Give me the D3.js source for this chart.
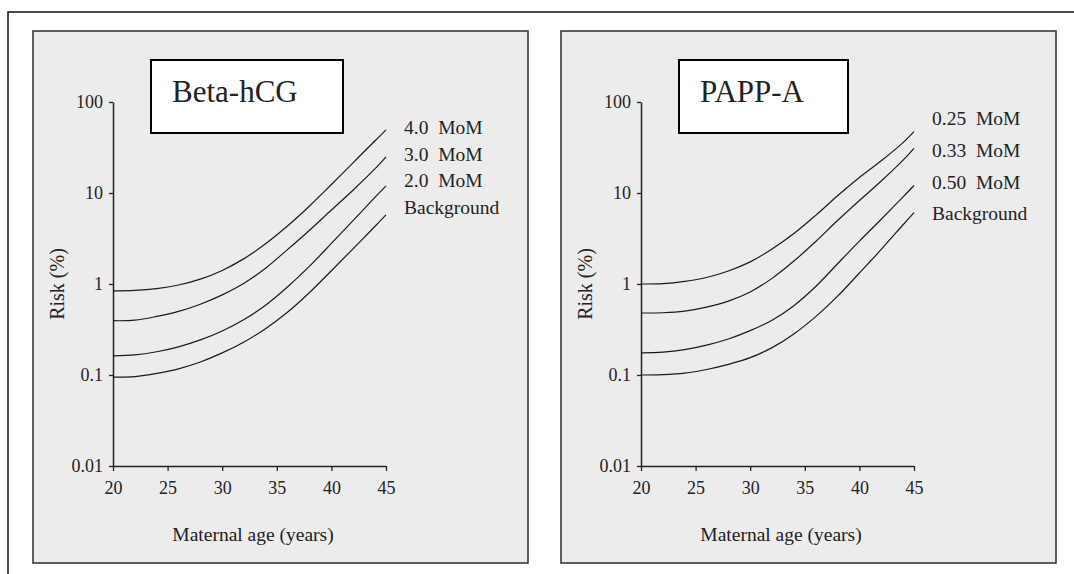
<!DOCTYPE html>
<html>
<head>
<meta charset="utf-8">
<script src="https://cdn.jsdelivr.net/npm/d3@7"></script>
<style>
  body { margin: 0; background: #fff; overflow: hidden; }
  text { font-family: "Liberation Serif", "Times New Roman", serif; fill: #222; }
</style>
</head>
<body>
<svg width="1074" height="574"></svg>
<script>
// maternal age (years)
const ages = [20, 22, 24, 26, 28, 30, 32, 34, 36, 38, 40, 42, 44, 45];

// Beta-hCG panel, risk (%)
const hcgBackground = [0.095, 0.096, 0.104, 0.117, 0.139, 0.175, 0.231, 0.325, 0.492, 0.807, 1.40, 2.45, 4.31, 5.74];
const hcg20 = [0.162, 0.166, 0.18, 0.204, 0.243, 0.305, 0.407, 0.589, 0.933, 1.57, 2.79, 5.0, 9.0, 12.0];
const hcg30 = [0.395, 0.4, 0.44, 0.5, 0.6, 0.76, 1.02, 1.5, 2.4, 3.9, 6.5, 10.8, 18.5, 25];
const hcg40 = [0.84, 0.85, 0.89, 0.975, 1.13, 1.41, 1.9, 2.78, 4.36, 7.2, 12.4, 21.6, 37.5, 49.4];

// PAPP-A panel, risk (%)
const pappBackground = [0.1, 0.101, 0.105, 0.115, 0.131, 0.155, 0.2, 0.283, 0.438, 0.735, 1.32, 2.4, 4.48, 6.1];
const papp050 = [0.175, 0.178, 0.19, 0.213, 0.249, 0.307, 0.4, 0.578, 0.938, 1.67, 2.96, 5.15, 9.06, 12.1];
const papp033 = [0.48, 0.483, 0.504, 0.558, 0.649, 0.817, 1.153, 1.786, 2.93, 4.98, 8.26, 13.55, 23.0, 31.0];
const papp025 = [1.0, 1.01, 1.07, 1.18, 1.39, 1.75, 2.42, 3.58, 5.68, 9.31, 14.8, 22.6, 35.8, 47.2];

const hcgLabels = ["4.0\u00a0\u00a0MoM", "3.0\u00a0\u00a0MoM", "2.0\u00a0\u00a0MoM", "Background"];
const pappLabels = ["0.25\u00a0\u00a0MoM", "0.33\u00a0\u00a0MoM", "0.50\u00a0\u00a0MoM", "Background"];

const xTicks = [20, 25, 30, 35, 40, 45];
const yTicks = [0.01, 0.1, 1, 10, 100];
const yTickLabels = ["0.01", "0.1", "1", "10", "100"];

let svg = d3.select("svg");

// outer frame: only the top and left edges fall inside the picture
svg.append("path")
  .attr("d", "M8,574V12H1074")
  .attr("fill", "none")
  .attr("stroke", "#111")
  .attr("stroke-width", 1.5);

function drawPanel(x0, title, boxWidth, series, labels, labelYs) {
  let g = svg.append("g").attr("transform", `translate(${x0},0)`);

  g.append("rect")
    .attr("x", 0).attr("y", 31)
    .attr("width", 495).attr("height", 532)
    .attr("fill", "#ececec")
    .attr("stroke", "#3a3a3a")
    .attr("stroke-width", 1.6);

  let x = d3.scaleLinear().domain([20, 45]).range([80, 353]);
  let y = d3.scaleLog().domain([0.01, 100]).range([466, 102]);

  let xAxis = g.append("g")
    .attr("transform", "translate(0,466)")
    .call(d3.axisBottom(x).tickValues(xTicks).tickSize(5).tickSizeOuter(0).tickPadding(10));

  let yAxis = g.append("g")
    .attr("transform", "translate(80,0)")
    .call(d3.axisLeft(y).tickValues(yTicks)
      .tickFormat((d, i) => yTickLabels[i])
      .tickSize(4).tickSizeOuter(0).tickPadding(6));

  [xAxis, yAxis].forEach((a) => {
    a.select(".domain").attr("stroke", "#222").attr("stroke-width", 1.5);
    a.selectAll(".tick line").attr("stroke", "#222").attr("stroke-width", 1.3);
    a.selectAll("text")
      .style("font-family", "'Liberation Serif', serif")
      .style("font-size", "18px")
      .attr("fill", "#222");
  });

  g.append("text")
    .attr("x", 220).attr("y", 541)
    .attr("text-anchor", "middle")
    .style("font-size", "19.5px")
    .text("Maternal age (years)");

  g.append("text")
    .attr("transform", "translate(31,284) rotate(-90)")
    .attr("text-anchor", "middle")
    .style("font-size", "20px")
    .text("Risk (%)");

  let line = d3.line()
    .x((d, i) => x(ages[i]))
    .y((d) => y(d))
    .curve(d3.curveCatmullRom);

  g.selectAll("path.curve")
    .data(series)
    .enter()
    .append("path")
    .attr("class", "curve")
    .attr("d", line)
    .attr("fill", "none")
    .attr("stroke", "#1a1a1a")
    .attr("stroke-width", 1.2);

  g.selectAll("text.lbl")
    .data(labels)
    .enter()
    .append("text")
    .attr("class", "lbl")
    .attr("x", 371)
    .attr("y", (d, i) => labelYs[i])
    .attr("dy", "0.35em")
    .style("font-size", "19.5px")
    .text((d) => d);

  g.append("rect")
    .attr("x", 118).attr("y", 60)
    .attr("width", boxWidth).attr("height", 73)
    .attr("fill", "#fff")
    .attr("stroke", "#000")
    .attr("stroke-width", 2);

  g.append("text")
    .attr("x", 139).attr("y", 102)
    .style("font-size", "31px")
    .attr("fill", "#000")
    .text(title);
}

drawPanel(33, "Beta-hCG", 192, [hcg40, hcg30, hcg20, hcgBackground], hcgLabels, [127, 154, 180, 207]);
drawPanel(561, "PAPP-A", 169, [papp025, papp033, papp050, pappBackground], pappLabels, [118, 150, 182, 213]);
</script>
</body>
</html>
